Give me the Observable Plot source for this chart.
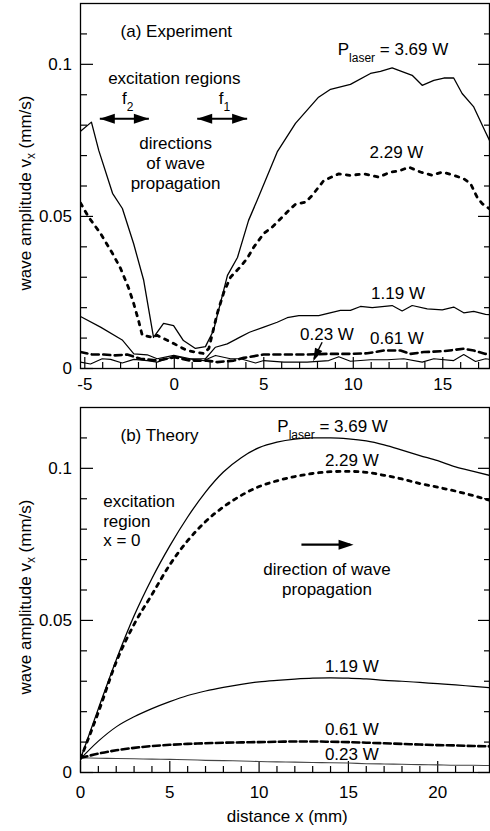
<!DOCTYPE html>
<html>
<head>
<meta charset="utf-8">
<script src="https://cdn.jsdelivr.net/npm/d3@7"></script>
<script src="https://cdn.jsdelivr.net/npm/@observablehq/plot@0.6"></script>
<style>
html, body { margin: 0; padding: 0; background: #fff; }
#chart svg { display: block; }
</style>
</head>
<body>
<div id="chart"></div>
<script>
// ---------- (a) Experiment: [distance x (mm), amplitude (mm/s)] ----------
const exp369 = [[-5.24,0.078],[-4.63,0.081],[-4.22,0.0717],[-3.45,0.0576],[-2.9,0.0526],[-2.27,0.041],[-1.71,0.029],[-1.16,0.0102],[-0.6,0.0148],[-0.04,0.0141],[0.51,0.0092],[1.18,0.0066],[1.74,0.0072],[2.19,0.0125],[2.97,0.0306],[3.53,0.0365],[4.15,0.0487],[4.63,0.0553],[5.75,0.0712],[6.77,0.0806],[8.06,0.0892],[8.73,0.0918],[9.84,0.0934],[10.96,0.097],[11.52,0.0977],[12.17,0.0988],[13.29,0.0964],[13.85,0.0931],[14.5,0.0947],[15.06,0.0955],[15.61,0.0955],[16.08,0.0904],[16.73,0.086],[17.39,0.0777],[17.61,0.075]];
const exp229 = [[-5.24,0.0544],[-4.79,0.0498],[-4.12,0.0444],[-3.45,0.0378],[-3.0,0.0329],[-2.56,0.0266],[-2.27,0.0214],[-2.0,0.0158],[-1.79,0.0109],[-1.23,0.0103],[-0.96,0.0109],[-0.03,0.0082],[0.72,0.0059],[1.65,0.0049],[1.93,0.0066],[2.4,0.0181],[2.77,0.0251],[3.14,0.03],[3.7,0.0335],[4.07,0.0362],[4.44,0.0399],[5.0,0.0444],[5.47,0.0465],[6.03,0.0498],[6.4,0.052],[6.77,0.054],[7.33,0.0547],[7.7,0.0569],[8.35,0.0618],[9.19,0.064],[9.84,0.0635],[10.59,0.064],[11.42,0.0629],[12.08,0.0646],[12.54,0.0649],[13.1,0.0662],[13.75,0.0646],[14.41,0.0635],[14.97,0.0646],[15.61,0.0635],[16.17,0.0624],[16.55,0.0608],[16.92,0.0563],[17.2,0.0542],[17.61,0.0525]];
const exp119 = [[-5.24,0.0171],[-4.12,0.0136],[-2.91,0.0094],[-2.26,0.0048],[-1.51,0.0045],[-0.96,0.0032],[-0.03,0.0043],[0.9,0.0032],[1.74,0.0032],[2.3,0.007],[2.96,0.0081],[3.7,0.0104],[4.2,0.0119],[5.0,0.0136],[5.75,0.0152],[6.31,0.0167],[6.96,0.0174],[8.07,0.0174],[9.28,0.0191],[9.84,0.0191],[10.4,0.0204],[11.06,0.02],[12.17,0.0207],[12.73,0.0189],[13.29,0.0207],[14.13,0.0196],[14.97,0.0193],[15.61,0.0202],[16.17,0.0183],[16.73,0.0188],[17.39,0.0178],[17.61,0.0177]];
const exp061 = [[-5.24,0.0054],[-4.59,0.0046],[-3.94,0.0046],[-3.3,0.0043],[-2.63,0.0046],[-1.89,0.0032],[-0.96,0.0026],[0,0.0037],[0.9,0.0026],[1.84,0.0026],[2.4,0.0021],[3.32,0.0026],[3.88,0.0035],[5.0,0.0046],[6.12,0.0046],[7.42,0.0046],[8.54,0.0048],[9.66,0.0048],[10.78,0.005],[11.7,0.0059],[12.64,0.0059],[13.2,0.0048],[13.94,0.0054],[15.06,0.0057],[16.17,0.0065],[16.73,0.0059],[17.39,0.0048],[17.61,0.0047]];
const exp023 = [[-5.24,0.0021],[-4.68,0.0015],[-4.03,0.0032],[-3.56,0.003],[-2.91,0.0018],[-2.26,0.003],[-1.51,0.0026],[-0.96,0.0021],[0,0.004],[0.72,0.0032],[1.65,0.0026],[2.3,0.0043],[3.14,0.0032],[3.7,0.0032],[4.54,0.0018],[5.0,0.0026],[6.12,0.0021],[7.42,0.0021],[8.63,0.0026],[9.19,0.0039],[9.84,0.0024],[10.96,0.0029],[11.9,0.0029],[12.82,0.0032],[13.85,0.0021],[14.5,0.0032],[15.61,0.0026],[16.17,0.0046],[16.83,0.0023],[17.39,0.0032],[17.61,0.003]];

// ---------- (b) Theory ----------
const theoryX = [0,1,2,3,4,5,6,7,8,9,10,11,12,13,14,15,16,17,18,19,20,21,22,22.9];
const th369 = [0.0045,0.021,0.037,0.0515,0.0638,0.0745,0.084,0.0922,0.0988,0.1035,0.1068,0.1086,0.1096,0.110,0.110,0.1097,0.109,0.1077,0.106,0.1042,0.1025,0.1005,0.099,0.0977];
const th229 = [0.0045,0.0198,0.0363,0.0487,0.0585,0.0683,0.0762,0.0825,0.0873,0.0911,0.094,0.0959,0.0973,0.0983,0.0989,0.099,0.0987,0.0977,0.0965,0.095,0.0938,0.0925,0.091,0.0895];
const th119 = [0.0045,0.0103,0.015,0.0183,0.021,0.0233,0.0253,0.0268,0.028,0.029,0.0298,0.0303,0.0307,0.031,0.0311,0.031,0.0308,0.0303,0.030,0.0296,0.0292,0.0288,0.0283,0.0279];
const th061 = [0.0048,0.0062,0.0073,0.0081,0.0087,0.0091,0.0094,0.0096,0.0098,0.0099,0.0100,0.0101,0.0102,0.0102,0.0101,0.0100,0.0098,0.0096,0.0094,0.0092,0.0090,0.0089,0.0087,0.0086];
const th023 = [0.0048,0.0047,0.0046,0.0045,0.0044,0.0043,0.0042,0.0040,0.0039,0.0038,0.0036,0.0035,0.0034,0.0033,0.0032,0.0031,0.0029,0.0028,0.0027,0.0026,0.0025,0.0024,0.0024,0.0023];

// ---------- ticks ----------
const yMajor = [0, 0.05, 0.1];
const yMinor = [0.01, 0.02, 0.03, 0.04, 0.06, 0.07, 0.08, 0.09, 0.11];
const xMajorTop = [-5, 0, 5, 10, 15];
const xMinorTop = [-4,-3,-2,-1,1,2,3,4,6,7,8,9,11,12,13,14,16,17];
const xMajorBot = [0, 5, 10, 15, 20];
const xMinorBot = [1,2,3,4,6,7,8,9,11,12,13,14,16,17,18,19,21,22];

// ---------- text ----------
const yTitle = "wave amplitude v_{x} (mm/s)";
const xTitle = "distance x (mm)";
const topLabelsStart = [
  {x: -3.0, y: 0.1112, t: "(a) Experiment"},
  {x: -2.92, y: 0.0891, t: "f_{2}"},
  {x: 2.48, y: 0.0891, t: "f_{1}"},
  {x: 9.13, y: 0.1053, t: "P_{laser} = 3.69 W"}
];
const topLabelsMid = [
  {x: 0, y: 0.0956, t: "excitation regions"},
  {x: 0.07, y: 0.0676, t: "directions\nof wave\npropagation"},
  {x: 12.41, y: 0.0714, t: "2.29 W"},
  {x: 12.5, y: 0.0249, t: "1.19 W"},
  {x: 8.53, y: 0.0115, t: "0.23 W"},
  {x: 12.44, y: 0.0102, t: "0.61 W"}
];
const botLabelsStart = [
  {x: 2.24, y: 0.1112, t: "(b) Theory"},
  {x: 1.27, y: 0.0829, t: "excitation\nregion\nx = 0"},
  {x: 11.02, y: 0.1141, t: "P_{laser} = 3.69 W"}
];
const botLabelsMid = [
  {x: 15.19, y: 0.103, t: "2.29 W"},
  {x: 13.8, y: 0.0638, t: "direction of wave\npropagation"},
  {x: 15.19, y: 0.0352, t: "1.19 W"},
  {x: 15.19, y: 0.0145, t: "0.61 W"},
  {x: 15.19, y: 0.0062, t: "0.23 W"}
];

// ---------- annotation arrows (data coordinates) ----------
const topShafts = [
  {x1: -4.16, y1: 0.0821, x2: -1.42, y2: 0.0821},
  {x1: 1.28, y1: 0.0821, x2: 4.07, y2: 0.0821}
];
const topHeads = [
  {x: -4.16, y: 0.0821, r: -90}, {x: -1.42, y: 0.0821, r: 90},
  {x: 1.28, y: 0.0821, r: -90}, {x: 4.07, y: 0.0821, r: 90}
];
const pointerShaft = [{x1: 8.26, y1: 0.00865, x2: 7.8, y2: 0.0032}];
const pointerHead = [{x: 7.76, y: 0.0024, r: 205}];
const botShaft = [{x1: 12.37, y1: 0.0749, x2: 15.1, y2: 0.0749}];
const botHead = [{x: 15.29, y: 0.0749, r: 90}];

// ---------- helpers ----------
const FONT = "'Liberation Sans', Arial, Helvetica, sans-serif";
const headShape = (L, W) => ({draw(ctx) { ctx.moveTo(0, 0); ctx.lineTo(W, L); ctx.lineTo(-W, L); ctx.closePath(); }});
const bigHead = headShape(15, 5);
const smallHead = headShape(13, 4);
const subShift = {x: 4};

function frameAndTicks(xMaj, xMin, padX) {
  const s = {strokeWidth: 1.2, fill: "none", label: null};
  return [
    Plot.frame({stroke: "black", strokeWidth: 1.3}),
    Plot.axisY(yMajor, {anchor: "left", tickSize: 13, dx: 13, ...s}),
    Plot.axisY(yMinor, {anchor: "left", tickSize: 7, dx: 7, ...s}),
    Plot.axisY(yMajor, {anchor: "right", tickSize: 12, dx: -12, ...s}),
    Plot.axisY(yMinor, {anchor: "right", tickSize: 6, dx: -6, ...s}),
    Plot.axisX(xMaj, {anchor: "bottom", tickSize: 11, dy: -11, ...s}),
    Plot.axisX(xMin, {anchor: "bottom", tickSize: 6, dy: -6, ...s}),
    Plot.axisY(yMajor, {anchor: "left", tickSize: 0, tickPadding: 8.5, tickFormat: d => String(d), label: null}),
    Plot.axisX(xMaj, {anchor: "bottom", tickSize: 0, tickPadding: padX, tickFormat: d => String(d), label: null}),
    Plot.text([{y: 0.0577, t: yTitle}], {y: "y", text: "t", frameAnchor: "left", dx: -55, rotate: -90, textAnchor: "middle", lineAnchor: "middle"})
  ];
}

function labelMarks(starts, mids, lh) {
  return [
    Plot.text(starts, {x: "x", y: "y", text: "t", textAnchor: "start", lineAnchor: "middle", lineHeight: lh}),
    Plot.text(mids, {x: "x", y: "y", text: "t", textAnchor: "middle", lineAnchor: "middle", lineHeight: lh})
  ];
}

function subscriptify(svg) {
  d3.select(svg).selectAll("text").each(function() {
    const t = this.textContent;
    if (!t.includes("_{")) return;
    const parts = t.split(/(_\{[^}]*\})/).filter(p => p);
    this.textContent = "";
    let back = 0;
    for (const p of parts) {
      const m = p.match(/^_\{(.*)\}$/);
      const ts = d3.select(this).append("tspan");
      if (m) {
        const sh = subShift[m[1]] ?? 7;
        ts.text(m[1]).attr("font-size", "12px").attr("dy", sh);
        back = sh;
      } else {
        ts.text(p);
        if (back) { ts.attr("dy", -back); back = 0; }
      }
    }
  });
}

const lineOpts = (extra) => ({x: d => d[0], y: d => d[1], stroke: "black", clip: true, ...extra});
const style = {fontFamily: FONT, fontSize: "17px", color: "black", background: "white"};

const topPlot = Plot.plot({
  width: 490, height: 400,
  marginLeft: 80, marginRight: 1, marginTop: 3, marginBottom: 32,
  x: {domain: [-5.24, 17.61]},
  y: {domain: [0, 0.12]},
  style,
  marks: [
    ...frameAndTicks(xMajorTop, xMinorTop, 9),
    Plot.line(exp023, lineOpts({strokeWidth: 1.1})),
    Plot.line(exp061, lineOpts({strokeWidth: 2.6, strokeDasharray: "7,4.5"})),
    Plot.line(exp119, lineOpts({strokeWidth: 1.2})),
    Plot.line(exp229, lineOpts({strokeWidth: 2.8, strokeDasharray: "3.5,6"})),
    Plot.line(exp369, lineOpts({strokeWidth: 1.3})),
    Plot.link(topShafts, {x1: "x1", y1: "y1", x2: "x2", y2: "y2", stroke: "black", strokeWidth: 2}),
    Plot.dot(topHeads, {x: "x", y: "y", rotate: "r", symbol: bigHead, fill: "black", stroke: "none"}),
    Plot.link(pointerShaft, {x1: "x1", y1: "y1", x2: "x2", y2: "y2", stroke: "black", strokeWidth: 1.4}),
    Plot.dot(pointerHead, {x: "x", y: "y", rotate: "r", symbol: smallHead, fill: "black", stroke: "none"}),
    ...labelMarks(topLabelsStart, topLabelsMid, 1.18)
  ]
});

const theoryRows = (vals) => theoryX.map((x, i) => [x, vals[i]]);

const botPlot = Plot.plot({
  width: 490, height: 431,
  marginLeft: 80, marginRight: 1, marginTop: 7, marginBottom: 59,
  x: {domain: [0, 22.9]},
  y: {domain: [0, 0.12]},
  style,
  marks: [
    ...frameAndTicks(xMajorBot, xMinorBot, 13),
    Plot.line(theoryRows(th023), lineOpts({stroke: "#444", strokeWidth: 1.1, curve: "monotone-x"})),
    Plot.line(theoryRows(th061), lineOpts({strokeWidth: 2.6, strokeDasharray: "7,3.5", curve: "monotone-x"})),
    Plot.line(theoryRows(th119), lineOpts({strokeWidth: 1.2, curve: "monotone-x"})),
    Plot.line(theoryRows(th229), lineOpts({strokeWidth: 2.8, strokeDasharray: "3.5,5.5", curve: "monotone-x"})),
    Plot.line(theoryRows(th369), lineOpts({strokeWidth: 1.3, curve: "monotone-x"})),
    Plot.link(botShaft, {x1: "x1", y1: "y1", x2: "x2", y2: "y2", stroke: "black", strokeWidth: 2.2}),
    Plot.dot(botHead, {x: "x", y: "y", rotate: "r", symbol: bigHead, fill: "black", stroke: "none"}),
    ...labelMarks(botLabelsStart, botLabelsMid, 1.16),
    Plot.text([{x: 11.58, t: xTitle}], {x: "x", text: "t", frameAnchor: "bottom", dy: 44, lineAnchor: "middle"})
  ]
});

subscriptify(topPlot);
subscriptify(botPlot);
const chart = document.getElementById("chart");
chart.appendChild(topPlot);
chart.appendChild(botPlot);
</script>
</body>
</html>
